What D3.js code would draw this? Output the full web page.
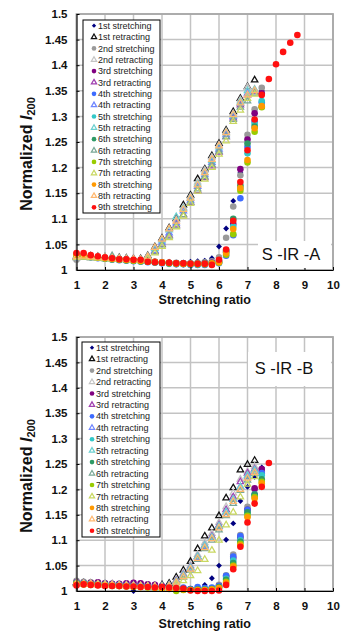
<!DOCTYPE html>
<html>
<head>
<meta charset="utf-8">
<script src="https://cdn.jsdelivr.net/npm/d3@7"></script>
<style>
  body { margin: 0; background: #fff; }
  svg { display: block; font-family: "Liberation Sans", Arial, sans-serif; }
</style>
</head>
<body>
<script>
// stretching ratio grid, shared by every series (index i -> ratios[i])
const ratios = [1, 1.25, 1.5, 1.75, 2, 2.25, 2.5, 2.75, 3, 3.25, 3.5, 3.75, 4, 4.25, 4.5, 4.75,
                5, 5.25, 5.5, 5.75, 6, 6.25, 6.5, 6.75, 7, 7.25, 7.5, 7.75, 8, 8.25, 8.5, 8.75];

const xTicks = [1, 2, 3, 4, 5, 6, 7, 8, 9, 10];
const yTicks = [1, 1.05, 1.1, 1.15, 1.2, 1.25, 1.3, 1.35, 1.4, 1.45, 1.5];
const yTickLabels = ['1', '1.05', '1.1', '1.15', '1.2', '1.25', '1.3', '1.35', '1.4', '1.45', '1.5'];

const seriesNames = ['1st stretching', '1st retracting', '2nd stretching', '2nd retracting',
    '3rd stretching', '3rd retracting', '4th stretching', '4th retracting',
    '5th stretching', '5th retracting', '6th stretching', '6th retracting',
    '7th stretching', '7th retracting', '8th stretching', '8th retracting', '9th stretching'];
const seriesShapes = ['diamond', 'triangle', 'circle', 'triangle', 'circle', 'triangle', 'circle', 'triangle',
    'circle', 'triangle', 'circle', 'triangle', 'circle', 'triangle', 'circle', 'triangle', 'circle'];
const seriesColors = ['#000080', '#111111', '#9a9a9a', '#c4c4c4', '#800080', '#a040b0', '#3d6bff', '#6f86ff',
    '#33c8c8', '#6cd0d0', '#2f9a66', '#7aa896', '#99cc00', '#c9d860', '#ff9900', '#ffb870', '#ff1010'];

// ---- S-IR-A ----
const aStretch1 = [1.028, 1.030, 1.027, 1.025, 1.024, 1.022, 1.021, 1.020, 1.019, 1.019, 1.018, 1.017, 1.016, 1.016, 1.015, 1.015, 1.016, 1.017, 1.018, 1.023, 1.046, 1.081, 1.135, 1.190, 1.258, 1.305, 1.350];
const aRetract1 = [1.027, 1.028, 1.027, 1.026, 1.025, 1.025, 1.024, 1.023, 1.022, 1.022, 1.028, 1.045, 1.062, 1.082, 1.100, 1.127, 1.146, 1.178, 1.197, 1.223, 1.247, 1.273, 1.309, 1.335, 1.358, 1.371];
const aStretch2 = [1.020, 1.027, 1.026, 1.024, 1.023, 1.022, 1.020, 1.020, 1.018, 1.018, 1.017, 1.016, 1.015, 1.014, 1.014, 1.013, 1.013, 1.014, 1.015, 1.017, 1.025, 1.063, 1.124, 1.185, 1.264, 1.314, 1.356];
const aRetract2 = [1.026, 1.027, 1.026, 1.025, 1.025, 1.024, 1.023, 1.022, 1.022, 1.021, 1.027, 1.043, 1.060, 1.080, 1.098, 1.122, 1.143, 1.172, 1.195, 1.220, 1.244, 1.270, 1.305, 1.332, 1.357, 1.353];
const aStretch3 = [1.030, 1.029, 1.027, 1.025, 1.023, 1.022, 1.021, 1.020, 1.019, 1.018, 1.017, 1.016, 1.015, 1.014, 1.013, 1.013, 1.012, 1.012, 1.013, 1.014, 1.018, 1.035, 1.090, 1.197, 1.255, 1.306, 1.345];
const aRetract3 = [1.025, 1.026, 1.025, 1.024, 1.023, 1.023, 1.022, 1.021, 1.021, 1.020, 1.024, 1.036, 1.050, 1.068, 1.088, 1.108, 1.132, 1.155, 1.180, 1.203, 1.230, 1.260, 1.297, 1.322, 1.342, 1.348];
const aStretch4 = [1.025, 1.026, 1.025, 1.023, 1.022, 1.020, 1.019, 1.018, 1.017, 1.016, 1.015, 1.014, 1.013, 1.012, 1.011, 1.011, 1.010, 1.010, 1.010, 1.011, 1.013, 1.028, 1.068, 1.140, 1.240, 1.290, 1.327];
const aRetract4 = [1.024, 1.025, 1.024, 1.023, 1.022, 1.022, 1.021, 1.020, 1.020, 1.019, 1.023, 1.038, 1.054, 1.072, 1.092, 1.115, 1.136, 1.163, 1.186, 1.210, 1.236, 1.264, 1.300, 1.325, 1.345, 1.350];
const aStretch5 = [1.027, 1.028, 1.026, 1.024, 1.022, 1.021, 1.020, 1.019, 1.018, 1.017, 1.016, 1.015, 1.014, 1.013, 1.012, 1.012, 1.011, 1.011, 1.012, 1.013, 1.015, 1.035, 1.085, 1.160, 1.228, 1.285, 1.330];
const aRetract5 = [1.026, 1.026, 1.025, 1.024, 1.023, 1.022, 1.022, 1.021, 1.020, 1.020, 1.026, 1.042, 1.058, 1.078, 1.104, 1.120, 1.140, 1.168, 1.190, 1.214, 1.240, 1.268, 1.302, 1.328, 1.350, 1.352];
const aStretch6 = [1.026, 1.027, 1.025, 1.024, 1.022, 1.021, 1.020, 1.019, 1.018, 1.017, 1.016, 1.015, 1.014, 1.013, 1.013, 1.012, 1.012, 1.012, 1.012, 1.013, 1.016, 1.038, 1.100, 1.165, 1.247, 1.280, 1.319];
const aRetract6 = [1.025, 1.025, 1.024, 1.023, 1.023, 1.028, 1.022, 1.021, 1.020, 1.020, 1.022, 1.035, 1.049, 1.066, 1.086, 1.108, 1.133, 1.158, 1.182, 1.206, 1.232, 1.260, 1.294, 1.318, 1.330, 1.345];
const aStretch7 = [1.028, 1.027, 1.026, 1.024, 1.023, 1.021, 1.020, 1.019, 1.018, 1.017, 1.016, 1.015, 1.014, 1.013, 1.012, 1.012, 1.011, 1.011, 1.011, 1.012, 1.014, 1.030, 1.070, 1.155, 1.210, 1.270, 1.318];
const aRetract7 = [1.024, 1.025, 1.024, 1.023, 1.022, 1.021, 1.021, 1.020, 1.019, 1.019, 1.021, 1.033, 1.046, 1.063, 1.084, 1.105, 1.130, 1.154, 1.177, 1.200, 1.226, 1.252, 1.290, 1.312, 1.335, 1.343];
const aStretch8 = [1.030, 1.030, 1.027, 1.025, 1.023, 1.022, 1.021, 1.020, 1.019, 1.018, 1.017, 1.016, 1.015, 1.014, 1.013, 1.012, 1.012, 1.012, 1.012, 1.013, 1.015, 1.033, 1.080, 1.160, 1.215, 1.277, 1.320];
const aRetract8 = [1.026, 1.027, 1.026, 1.025, 1.024, 1.023, 1.022, 1.021, 1.021, 1.020, 1.026, 1.044, 1.060, 1.080, 1.095, 1.118, 1.140, 1.166, 1.190, 1.216, 1.242, 1.268, 1.303, 1.326, 1.342, 1.350];
const aStretch9 = [1.033, 1.033, 1.029, 1.027, 1.025, 1.023, 1.021, 1.021, 1.020, 1.020, 1.016, 1.015, 1.014, 1.014, 1.013, 1.013, 1.012, 1.012, 1.012, 1.010, 1.020, 1.040, 1.096, 1.172, 1.234, 1.294, 1.342, 1.373, 1.402, 1.426, 1.444, 1.459];

// ---- S-IR-B ----
const bStretch1 = [1.016, 1.015, 1.014, 1.014, 1.012, 1.012, 1.011, 1.011, 1.000, 1.010, 1.010, 1.009, 1.008, 1.006, 1.005, 1.004, 1.004, 1.008, 1.012, 1.025, 1.050, 1.101, 1.133, 1.177, 1.205, 1.225, 1.243];
const bRetract1 = [1.016, 1.016, 1.015, 1.014, 1.013, 1.013, 1.012, 1.012, 1.011, 1.011, 1.010, 1.010, 1.012, 1.015, 1.027, 1.041, 1.058, 1.083, 1.108, 1.124, 1.148, 1.183, 1.203, 1.238, 1.249, 1.257];
const bStretch2 = [1.020, 1.018, 1.017, 1.016, 1.015, 1.014, 1.013, 1.013, 1.012, 1.012, 1.011, 1.010, 1.009, 1.007, 1.005, 1.004, 1.003, 1.003, 1.004, 1.006, 1.012, 1.031, 1.072, 1.110, 1.166, 1.200, 1.235];
const bRetract2 = [1.015, 1.015, 1.014, 1.014, 1.013, 1.012, 1.012, 1.011, 1.011, 1.010, 1.010, 1.009, 1.010, 1.012, 1.022, 1.035, 1.050, 1.072, 1.095, 1.113, 1.135, 1.166, 1.193, 1.220, 1.235, 1.245];
const bStretch3 = [1.017, 1.016, 1.016, 1.017, 1.015, 1.014, 1.014, 1.015, 1.016, 1.015, 1.013, 1.012, 1.010, 1.008, 1.006, 1.005, 1.004, 1.003, 1.003, 1.005, 1.010, 1.028, 1.065, 1.105, 1.160, 1.202, 1.240];
const bRetract3 = [1.016, 1.015, 1.014, 1.014, 1.013, 1.013, 1.012, 1.012, 1.011, 1.011, 1.010, 1.009, 1.009, 1.011, 1.020, 1.032, 1.047, 1.068, 1.090, 1.108, 1.130, 1.160, 1.185, 1.215, 1.232, 1.240];
const bStretch4 = [1.015, 1.015, 1.014, 1.013, 1.012, 1.012, 1.011, 1.011, 1.010, 1.010, 1.009, 1.008, 1.007, 1.006, 1.005, 1.007, 1.004, 1.008, 1.006, 1.007, 1.010, 1.030, 1.068, 1.108, 1.160, 1.190, 1.232];
const bRetract4 = [1.015, 1.014, 1.014, 1.013, 1.012, 1.012, 1.011, 1.011, 1.010, 1.010, 1.009, 1.008, 1.009, 1.010, 1.018, 1.030, 1.045, 1.066, 1.087, 1.105, 1.127, 1.155, 1.180, 1.205, 1.225, 1.235];
const bStretch5 = [1.016, 1.015, 1.014, 1.013, 1.012, 1.011, 1.011, 1.010, 1.010, 1.009, 1.008, 1.007, 1.006, 1.005, 1.004, 1.003, 1.002, 1.002, 1.003, 1.004, 1.008, 1.024, 1.060, 1.100, 1.153, 1.188, 1.228];
const bRetract5 = [1.015, 1.015, 1.014, 1.013, 1.013, 1.012, 1.012, 1.011, 1.011, 1.010, 1.009, 1.009, 1.009, 1.011, 1.019, 1.031, 1.046, 1.068, 1.090, 1.106, 1.128, 1.156, 1.180, 1.205, 1.228, 1.238];
const bStretch6 = [1.015, 1.014, 1.013, 1.013, 1.012, 1.011, 1.010, 1.010, 1.009, 1.009, 1.008, 1.007, 1.006, 1.005, 1.004, 1.003, 1.003, 1.003, 1.003, 1.004, 1.008, 1.022, 1.055, 1.097, 1.155, 1.190, 1.220];
const bRetract6 = [1.014, 1.014, 1.013, 1.013, 1.012, 1.012, 1.011, 1.011, 1.010, 1.010, 1.009, 1.008, 1.008, 1.009, 1.016, 1.027, 1.041, 1.062, 1.083, 1.100, 1.120, 1.148, 1.172, 1.198, 1.218, 1.232];
const bStretch7 = [1.014, 1.013, 1.012, 1.012, 1.011, 1.010, 1.010, 1.009, 1.008, 1.008, 1.007, 1.006, 1.005, 1.004, 1.000, 1.002, 1.002, 1.002, 1.002, 1.003, 1.006, 1.018, 1.050, 1.093, 1.148, 1.185, 1.215];
const bRetract7 = [1.014, 1.013, 1.013, 1.012, 1.012, 1.011, 1.011, 1.010, 1.010, 1.009, 1.009, 1.008, 1.007, 1.008, 1.012, 1.020, 1.030, 1.040, 1.062, 1.080, 1.100, 1.130, 1.155, 1.185, 1.210, 1.225];
const bStretch8 = [1.014, 1.014, 1.013, 1.012, 1.011, 1.011, 1.010, 1.010, 1.009, 1.008, 1.008, 1.007, 1.006, 1.005, 1.004, 1.003, 1.002, 1.002, 1.002, 1.003, 1.006, 1.016, 1.048, 1.090, 1.145, 1.182, 1.212];
const bRetract8 = [1.015, 1.014, 1.014, 1.013, 1.012, 1.012, 1.011, 1.011, 1.010, 1.010, 1.009, 1.009, 1.008, 1.010, 1.017, 1.028, 1.043, 1.064, 1.085, 1.103, 1.124, 1.150, 1.176, 1.200, 1.222, 1.233];
const bStretch9 = [1.011, 1.013, 1.012, 1.011, 1.010, 1.010, 1.010, 1.009, 1.009, 1.008, 1.008, 1.007, 1.008, 1.007, 1.006, 1.005, 1.001, 1.000, 1.000, 1.000, 1.001, 1.012, 1.043, 1.087, 1.135, 1.172, 1.205, 1.252];

const panels = [
    {
        label: 'S -IR -A', top: 14, bottom: 270,
        series: [aStretch1, aRetract1, aStretch2, aRetract2, aStretch3, aRetract3, aStretch4, aRetract4,
                 aStretch5, aRetract5, aStretch6, aRetract6, aStretch7, aRetract7, aStretch8, aRetract8, aStretch9],
        legend: { x: 83, y: 20, w: 77, h: 193, markX: 94, textX: 98, row0: 25.7, step: 11.35 },
        labelBox: { x: 258, y: 241, w: 73, h: 27, cx: 291, base: 260 },
        titleY: 304
    },
    {
        label: 'S -IR -B', top: 337, bottom: 591,
        series: [bStretch1, bRetract1, bStretch2, bRetract2, bStretch3, bRetract3, bStretch4, bRetract4,
                 bStretch5, bRetract5, bStretch6, bRetract6, bStretch7, bRetract7, bStretch8, bRetract8, bStretch9],
        legend: { x: 82, y: 342, w: 78, h: 195, markX: 92, textX: 96, row0: 347.7, step: 11.44 },
        labelBox: { x: 248, y: 352, w: 83, h: 34, cx: 284, base: 374 },
        titleY: 628
    }
];

const width = 344, height = 631;
const left = 76.5, right = 333;

const svg = d3.select('body').append('svg')
    .attr('width', width)
    .attr('height', height);

const shapeType = {
    circle: d3.symbolCircle,
    triangle: d3.symbolTriangle,
    diamond: d3.symbolDiamond2 || d3.symbolDiamond
};
const plotSize = { circle: 34, triangle: 18, diamond: 22 };
const legendSize = { circle: 17, triangle: 12, diamond: 12 };

function marker(sel, shape, color, sizes) {
    sel.attr('d', d3.symbol().type(shapeType[shape]).size(sizes[shape]))
        .attr('fill', shape === 'triangle' ? 'none' : color)
        .attr('stroke', shape === 'triangle' ? color : 'none')
        .attr('stroke-width', 1.25);
}

panels.forEach(p => {
    const x = d3.scaleLinear().domain([1, 10]).range([left, right]);
    const y = d3.scaleLinear().domain([1, 1.5]).range([p.bottom, p.top]);
    const g = svg.append('g');

    // gridlines
    g.append('g').selectAll('line.h')
        .data(yTicks)
        .enter().append('line')
        .attr('x1', left).attr('x2', right)
        .attr('y1', d => y(d)).attr('y2', d => y(d))
        .attr('stroke', '#c3c3c3').attr('stroke-width', 1.5);
    g.append('g').selectAll('line.v')
        .data(xTicks)
        .enter().append('line')
        .attr('x1', d => x(d)).attr('x2', d => x(d))
        .attr('y1', p.top).attr('y2', p.bottom)
        .attr('stroke', '#c3c3c3').attr('stroke-width', 1.5);
    g.append('rect')
        .attr('x', left).attr('y', p.top)
        .attr('width', right - left).attr('height', p.bottom - p.top)
        .attr('fill', 'none').attr('stroke', '#a8a8a8').attr('stroke-width', 1.8);

    // points, 1st stretching drawn first so the 9th ends on top
    p.series.forEach((vals, k) => {
        g.append('g').selectAll('path')
            .data(vals.map((v, i) => [ratios[i], v]))
            .enter().append('path')
            .attr('transform', d => `translate(${x(d[0])},${y(d[1])})`)
            .call(marker, seriesShapes[k], seriesColors[k], plotSize);
    });

    // axes
    const yAxis = d3.axisLeft(y).tickValues(yTicks)
        .tickFormat((d, i) => yTickLabels[i])
        .tickSizeInner(-3).tickSizeOuter(0).tickPadding(9);
    const xAxis = d3.axisBottom(x).tickValues(xTicks)
        .tickFormat(d3.format('d'))
        .tickSizeInner(-3).tickSizeOuter(0).tickPadding(11);

    g.append('g')
        .attr('transform', `translate(${left},0)`)
        .call(yAxis)
        .call(a => a.selectAll('text').attr('font-size', 11.5).attr('font-weight', 'bold').attr('fill', '#111'))
        .call(a => a.selectAll('line, path').attr('stroke', '#000'));
    g.append('g')
        .attr('transform', `translate(0,${p.bottom})`)
        .call(xAxis)
        .call(a => a.selectAll('text').attr('font-size', 11.5).attr('font-weight', 'bold').attr('fill', '#111'))
        .call(a => a.selectAll('line, path').attr('stroke', '#000'));

    // axis titles
    g.append('text')
        .attr('x', (left + right) / 2).attr('y', p.titleY)
        .attr('text-anchor', 'middle')
        .attr('font-size', 12.5).attr('font-weight', 'bold').attr('fill', '#111')
        .text('Stretching ratio');

    const yt = g.append('text')
        .attr('transform', `translate(31.5,${(p.top + p.bottom) / 2 + 12}) rotate(-90)`)
        .attr('text-anchor', 'middle')
        .attr('font-size', 16).attr('font-weight', 'bold').attr('fill', '#111');
    yt.append('tspan').text('Normalized ');
    yt.append('tspan').attr('font-style', 'italic').text('I');
    yt.append('tspan').attr('font-size', 11).attr('dy', '0.3em').text('200');

    // legend
    const L = p.legend;
    g.append('rect')
        .attr('x', L.x).attr('y', L.y).attr('width', L.w).attr('height', L.h)
        .attr('fill', '#fff').attr('stroke', '#000').attr('stroke-width', 1);
    const items = g.append('g').selectAll('g')
        .data(seriesNames)
        .enter().append('g')
        .attr('transform', (d, i) => `translate(0,${L.row0 + i * L.step})`);
    items.append('path')
        .attr('transform', `translate(${L.markX},0)`)
        .each(function(d, i) { d3.select(this).call(marker, seriesShapes[i], seriesColors[i], legendSize); });
    items.append('text')
        .attr('x', L.textX).attr('dy', '0.35em')
        .attr('font-size', 9).attr('fill', '#222')
        .text(d => d);

    // sample label
    const B = p.labelBox;
    g.append('rect')
        .attr('x', B.x).attr('y', B.y).attr('width', B.w).attr('height', B.h)
        .attr('fill', '#fff');
    g.append('text')
        .attr('x', B.cx).attr('y', B.base)
        .attr('text-anchor', 'middle')
        .attr('font-size', 16.5).attr('fill', '#111')
        .text(p.label);
});
</script>
</body>
</html>
